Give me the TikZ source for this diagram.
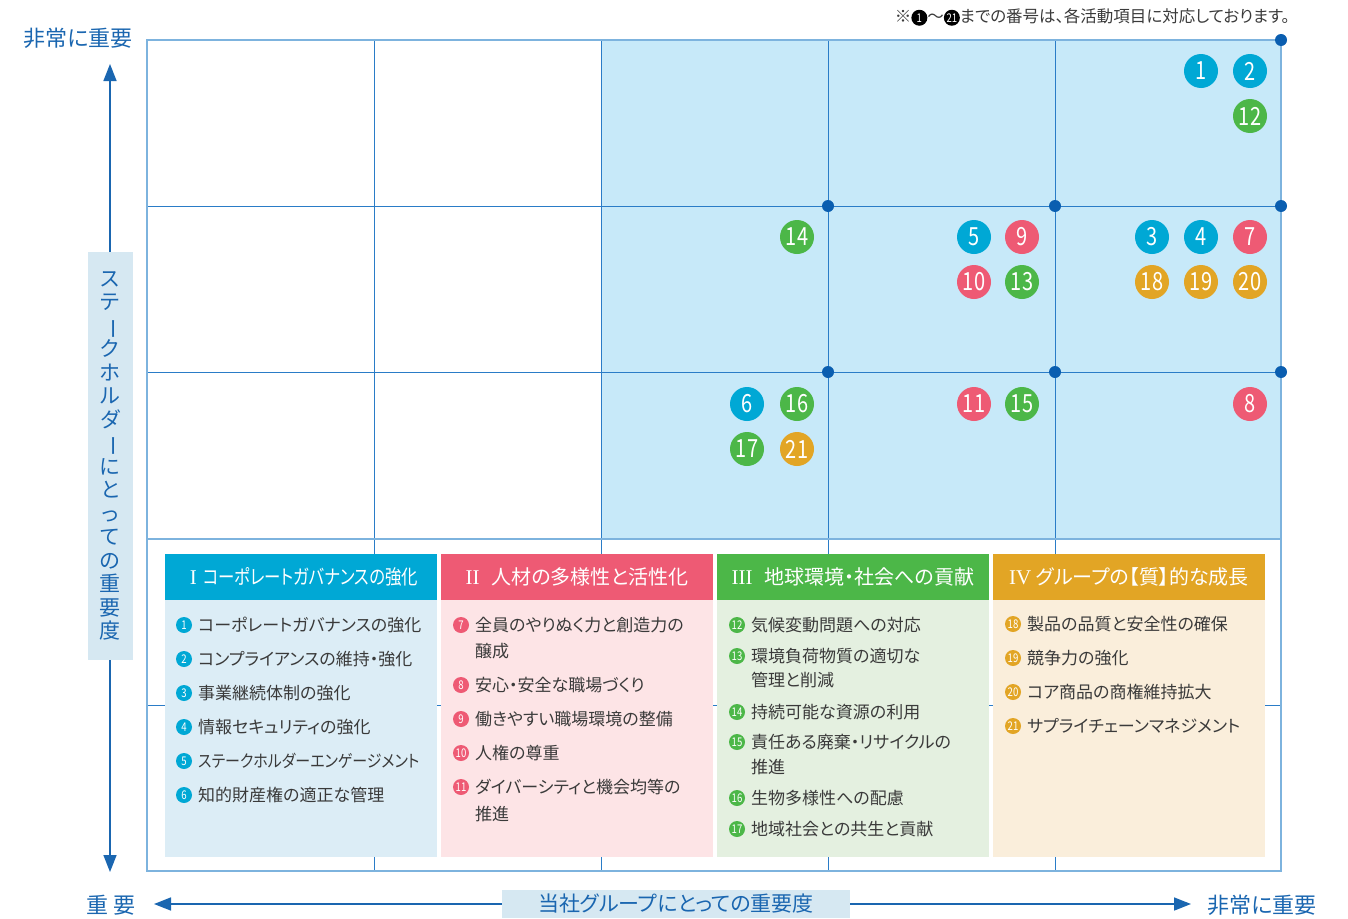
\documentclass[tikz,border=0pt]{standalone}
\usepackage{fontspec}
\usepackage{graphicx}
\usetikzlibrary{arrows.meta}
\setmainfont{Noto Sans CJK JP}[RawFeature=+palt]
\newfontfamily\numf{Noto Sans CJK JP}[FakeStretch=0.8]
\newfontfamily\romf{Liberation Serif}
\definecolor{axb}{HTML}{1A66B0}
\definecolor{gridd}{HTML}{2A7CC7}
\definecolor{gridl}{HTML}{7DB3DE}
\definecolor{dotb}{HTML}{0A5EB0}
\definecolor{shadebg}{HTML}{C7E9F9}
\definecolor{labbg}{HTML}{D6E8F2}
\definecolor{ccy}{HTML}{00A8D5}
\definecolor{cpk}{HTML}{EE5A74}
\definecolor{cgr}{HTML}{4CB748}
\definecolor{cor}{HTML}{E2A525}
\definecolor{bcy}{HTML}{DCEDF6}
\definecolor{bpk}{HTML}{FDE4E6}
\definecolor{bgr}{HTML}{E4F0E0}
\definecolor{bor}{HTML}{FAEEDB}
\definecolor{itxt}{HTML}{3A3A3A}
\newcommand\rotbar{\rotatebox[origin=c]{-90}{ー}}
\newcommand\rmn[1]{{\romf\fontsize{21}{21}\selectfont #1}}
\newcommand\blkc[1]{\tikz[baseline=-0.5ex]\node[circle,fill=black,text=white,inner sep=0pt,minimum size=16pt,font=\numf\fontsize{12}{12}\selectfont](bc){#1};}
\begin{document}
\begin{tikzpicture}[x=1pt,y=-1pt,
  gc/.style={circle,fill=#1,text=white,minimum size=34pt,inner sep=0pt,font=\numf\fontsize{25}{25}\selectfont},
  ic/.style={circle,fill=#1,text=white,minimum size=16pt,inner sep=0pt,font=\numf\fontsize{12}{12}\selectfont},
  it/.style={anchor=west,inner sep=0pt,text=itxt,font=\fontsize{17}{17}\selectfont},
  hd/.style={fill=#1,minimum width=272pt,minimum height=46pt,inner sep=0pt,text=white,font=\fontsize{20}{20}\selectfont},
  bd/.style={fill=#1,minimum width=272pt,minimum height=257pt,inner sep=0pt},
  gdot/.style={circle,fill=dotb,minimum size=12pt,inner sep=0pt},
  axlab/.style={text=axb,inner sep=0pt,font=\fontsize{22}{22}\selectfont},
  axarrow/.style={draw=axb,line width=1.6pt,-{Triangle[length=17pt,width=13pt]}}
]
\useasboundingbox (0,0) rectangle (1348,918);
% shading
\fill[shadebg] (601,40) rectangle (1281,539);
% inner grid
\foreach \x in {374,601,828,1055} \draw[gridd,line width=0.9pt] (\x,40) -- (\x,871);
\foreach \y in {206,372,705} \draw[gridd,line width=0.9pt] (147,\y) -- (1281,\y);
\draw[gridl,line width=2pt] (147,539) -- (1281,539);
\draw[gridl,line width=2pt] (147,40) rectangle (1281,871);
% dots
\node[gdot] (d0) at (1281,40) {};
\node[gdot] (d1) at (828,206) {};
\node[gdot] (d2) at (1055,206) {};
\node[gdot] (d3) at (1281,206) {};
\node[gdot] (d4) at (828,372) {};
\node[gdot] (d5) at (1055,372) {};
\node[gdot] (d6) at (1281,372) {};
% grid circles
\node[gc=ccy] (g1) at (1201,71) {1};
\node[gc=ccy] (g2) at (1250,71) {2};
\node[gc=cgr] (g12) at (1250,116) {12};
\node[gc=cgr] (g14) at (797,237) {14};
\node[gc=ccy] (g5) at (974,237) {5};
\node[gc=cpk] (g9) at (1022,237) {9};
\node[gc=cpk] (g10) at (974,282) {10};
\node[gc=cgr] (g13) at (1022,282) {13};
\node[gc=ccy] (g3) at (1152,237) {3};
\node[gc=ccy] (g4) at (1201,237) {4};
\node[gc=cpk] (g7) at (1250,237) {7};
\node[gc=cor] (g18) at (1152,282) {18};
\node[gc=cor] (g19) at (1201,282) {19};
\node[gc=cor] (g20) at (1250,282) {20};
\node[gc=ccy] (g6) at (747,404) {6};
\node[gc=cgr] (g16) at (797,404) {16};
\node[gc=cgr] (g17) at (747,449) {17};
\node[gc=cor] (g21) at (797,449) {21};
\node[gc=cpk] (g11) at (974,404) {11};
\node[gc=cgr] (g15) at (1022,404) {15};
\node[gc=cpk] (g8) at (1250,404) {8};
% boxes
\node[bd=bcy] (b1) at (301,728.5) {};
\node[bd=bpk] (b2) at (577,728.5) {};
\node[bd=bgr] (b3) at (853,728.5) {};
\node[bd=bor] (b4) at (1129,728.5) {};
\node[hd=ccy] (h1) at (301,577) {\hspace{6pt}\rmn{I}\hspace{6pt}\scalebox{0.82}[1]{コーポレートガバナンスの強化}};
\node[hd=cpk] (h2) at (577,577) {\rmn{II}\hspace{12pt}人材の多様性と活性化};
\node[hd=cgr] (h3) at (853,577) {\rmn{III}\hspace{12pt}地球環境・社会への貢献};
\node[hd=cor] (h4) at (1129,577) {\rmn{IV}\hspace{5pt}グループの【質】的な成長};
% box 1 items
\node[ic=ccy] (i1) at (184,625) {1}; \node[it] (t1) at (198,625) {コーポレートガバナンスの強化};
\node[ic=ccy] (i2) at (184,659) {2}; \node[it] (t2) at (198,659) {コンプライアンスの維持・強化};
\node[ic=ccy] (i3) at (184,693) {3}; \node[it] (t3) at (198,693) {事業継続体制の強化};
\node[ic=ccy] (i4) at (184,727) {4}; \node[it] (t4) at (198,727) {情報セキュリティの強化};
\node[ic=ccy] (i5) at (184,761) {5}; \node[it] (t5) at (198,761) {\scalebox{0.88}[1]{ステークホルダーエンゲージメント}};
\node[ic=ccy] (i6) at (184,795) {6}; \node[it] (t6) at (198,795) {知的財産権の適正な管理};
% box 2 items
\node[ic=cpk] (i7) at (461,625) {7}; \node[it] (t7) at (475,625) {全員のやりぬく力と創造力の};
\node[it] (t7b) at (475,651) {醸成};
\node[ic=cpk] (i8) at (461,685) {8}; \node[it] (t8) at (475,685) {安心・安全な職場づくり};
\node[ic=cpk] (i9) at (461,719) {9}; \node[it] (t9) at (475,719) {働きやすい職場環境の整備};
\node[ic=cpk] (i10) at (461,753) {10}; \node[it] (t10) at (475,753) {人権の尊重};
\node[ic=cpk] (i11) at (461,787) {11}; \node[it] (t11) at (475,787) {ダイバーシティと機会均等の};
\node[it] (t11b) at (475,814) {推進};
% box 3 items
\node[ic=cgr] (i12) at (737,625) {12}; \node[it] (t12) at (751,625) {気候変動問題への対応};
\node[ic=cgr] (i13) at (737,656) {13}; \node[it] (t13) at (751,656) {環境負荷物質の適切な};
\node[it] (t13b) at (751,680) {管理と削減};
\node[ic=cgr] (i14) at (737,712) {14}; \node[it] (t14) at (751,712) {持続可能な資源の利用};
\node[ic=cgr] (i15) at (737,742) {15}; \node[it] (t15) at (751,742) {責任ある廃棄・リサイクルの};
\node[it] (t15b) at (751,767) {推進};
\node[ic=cgr] (i16) at (737,798) {16}; \node[it] (t16) at (751,798) {生物多様性への配慮};
\node[ic=cgr] (i17) at (737,829) {17}; \node[it] (t17) at (751,829) {地域社会との共生と貢献};
% box 4 items
\node[ic=cor] (i18) at (1013,624) {18}; \node[it] (t18) at (1027,624) {製品の品質と安全性の確保};
\node[ic=cor] (i19) at (1013,658) {19}; \node[it] (t19) at (1027,658) {競争力の強化};
\node[ic=cor] (i20) at (1013,692) {20}; \node[it] (t20) at (1027,692) {コア商品の商権維持拡大};
\node[ic=cor] (i21) at (1013,726) {21}; \node[it] (t21) at (1027,726) {サプライチェーンマネジメント};
% axes
\coordinate (ymid) at (110,456);
\coordinate (ytop) at (110,64);
\coordinate (ybot) at (110,872);
\draw[axarrow] (ymid) -- (ytop);
\draw[axarrow] (ymid) -- (ybot);
\node[fill=labbg,minimum width=45pt,minimum height=408pt,inner sep=0pt,align=center,text=axb,font=\fontsize{21}{23.5}\selectfont] (ylab) at (ymid)
 {ス\\テ\\\rotbar\\ク\\ホ\\ル\\ダ\\\rotbar\\に\\と\\っ\\て\\の\\重\\要\\度};
\coordinate (xmid) at (676,904);
\coordinate (xl) at (154,904);
\coordinate (xr) at (1191,904);
\draw[axarrow] (xmid) -- (xl);
\draw[axarrow] (xmid) -- (xr);
\node[fill=labbg,minimum width=348pt,minimum height=28pt,inner sep=0pt,text=axb,font=\fontsize{21}{21}\selectfont] (xlab) at (xmid) {当社グループにとっての重要度};
\node[axlab] (ttop) at (78,38) {非常に重要};
\node[axlab] (tlo) at (111,905) {重\hspace{6pt}要};
\node[axlab] (thi) at (1262,905) {非常に重要};
% note
\node[anchor=east,inner sep=0pt,text=itxt,font=\fontsize{16.5}{16.5}\selectfont] (note) at (1290,17)
 {※\blkc{1}〜\blkc{21}までの番号は、各活動項目に対応しております。};
\end{tikzpicture}
\end{document}
